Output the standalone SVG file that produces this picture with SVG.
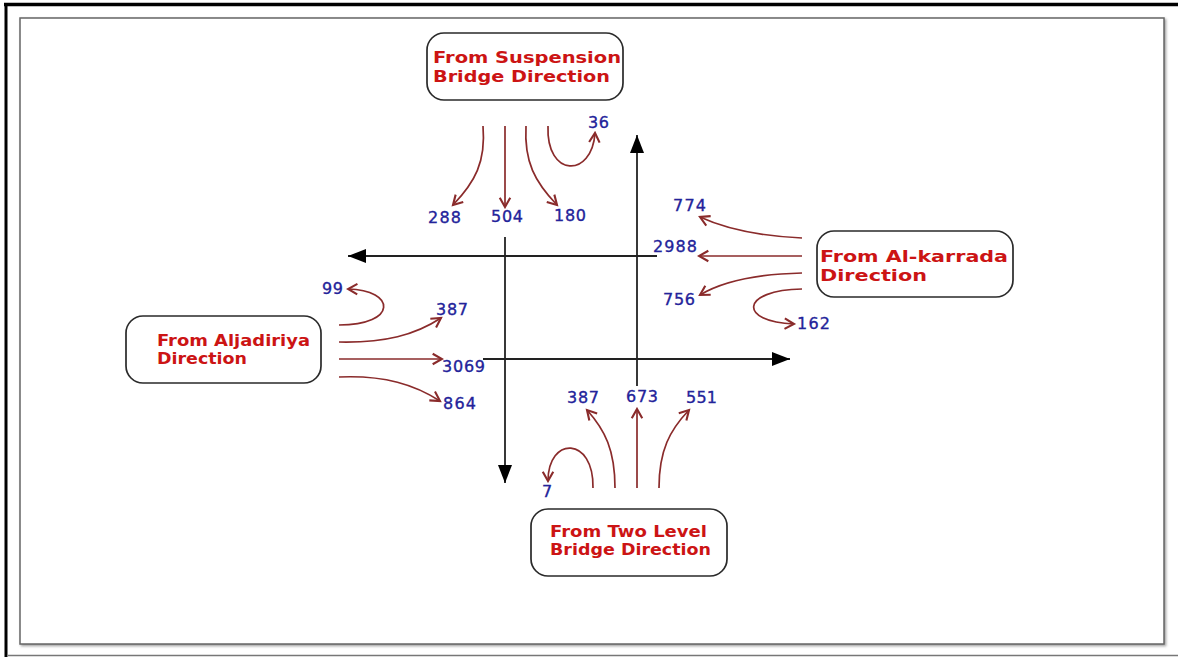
<svg xmlns="http://www.w3.org/2000/svg" width="1178" height="657" viewBox="0 0 1178 657">
<defs>
<style>
.box{fill:#fff;stroke:#2a2a2a;stroke-width:1.7}
.lbl{font-family:"DejaVu Sans","Liberation Sans",sans-serif;font-weight:bold;font-size:16px;fill:#cc1414}
.num{font-family:"DejaVu Sans","Liberation Sans",sans-serif;font-size:16px;fill:#23239a;stroke:#23239a;stroke-width:0.35}
.flow{fill:none;stroke:#8a2b2b;stroke-width:1.7;marker-end:url(#ra)}
.axis{fill:none;stroke:#222;stroke-width:1.8;marker-end:url(#ba)}
</style>
<marker id="ra" markerUnits="userSpaceOnUse" markerWidth="14" markerHeight="14" refX="10" refY="6" orient="auto" viewBox="0 0 12 12">
<path d="M2,1.5 L10,6 L2,10.5" fill="none" stroke="#8a2b2b" stroke-width="1.8"/>
</marker>
<marker id="ba" markerUnits="userSpaceOnUse" markerWidth="20" markerHeight="14" refX="18" refY="7" orient="auto" viewBox="0 0 20 14">
<path d="M0,0 L18,7 L0,14 Z" fill="#000"/>
</marker>
<filter id="sh" x="-1%" y="-1%" width="102%" height="103%">
<feDropShadow dx="1.5" dy="1.5" stdDeviation="0.8" flood-color="#666" flood-opacity="0.6"/>
</filter>
</defs>
<rect width="1178" height="657" fill="#fff"/>
<g id="frame">
<line x1="4" y1="4.5" x2="1178" y2="4.5" stroke="#000" stroke-width="3.5"/>
<line x1="6" y1="3" x2="6" y2="657" stroke="#000" stroke-width="3"/>
<line x1="8" y1="655.5" x2="1178" y2="655.5" stroke="#777" stroke-width="1.5"/>
<rect x="20" y="18" width="1144" height="626" fill="#fff" stroke="#666" stroke-width="1.5" filter="url(#sh)"/>
</g>
<g id="connectors">
<line class="axis" x1="657" y1="256" x2="348" y2="256"/>
<line class="axis" x1="505" y1="237" x2="505" y2="483"/>
<line class="axis" x1="637" y1="386" x2="637" y2="135"/>
<line class="axis" x1="483" y1="359" x2="790" y2="359"/>
<path class="flow" d="M483,126 C486,162 475,182 453,205"/>
<path class="flow" d="M505,126 L505,207"/>
<path class="flow" d="M526,126 C524,162 535,182 557,205"/>
<path class="flow" d="M548,126 C546,178 592,178 595,133"/>
<path class="flow" d="M802,238 C760,236 728,230 700,217"/>
<path class="flow" d="M802,256 L699,256"/>
<path class="flow" d="M802,273 C760,274 725,280 700,295"/>
<path class="flow" d="M802,289 C740,290 738,322 794,324"/>
<path class="flow" d="M339,325 C398,325 396,290 348,289"/>
<path class="flow" d="M339,342 C385,343 415,335 441,318"/>
<path class="flow" d="M339,359 L442,359"/>
<path class="flow" d="M339,377 C385,375 415,385 440,401"/>
<path class="flow" d="M593,488 C594,436 548,436 548,481"/>
<path class="flow" d="M615,488 C615,450 605,430 587,410"/>
<path class="flow" d="M637,488 L637,409"/>
<path class="flow" d="M659,488 C659,450 670,430 689,410"/>
</g>
<g id="node-suspension">
<rect class="box" x="427" y="33" width="196" height="67" rx="17"/>
<text class="lbl" x="433" y="63" textLength="188" lengthAdjust="spacingAndGlyphs">From Suspension</text>
<text class="lbl" x="433" y="82" textLength="177" lengthAdjust="spacingAndGlyphs">Bridge Direction</text>
</g>
<g id="node-alkarrada">
<rect class="box" x="817" y="231" width="196" height="66" rx="17"/>
<text class="lbl" x="820" y="262" textLength="188" lengthAdjust="spacingAndGlyphs">From Al-karrada</text>
<text class="lbl" x="820" y="281" textLength="107" lengthAdjust="spacingAndGlyphs">Direction</text>
</g>
<g id="node-aljadiriya">
<rect class="box" x="126" y="316" width="195" height="67" rx="17"/>
<text class="lbl" x="157" y="346" textLength="153" lengthAdjust="spacingAndGlyphs">From Aljadiriya</text>
<text class="lbl" x="157" y="364" textLength="90" lengthAdjust="spacingAndGlyphs">Direction</text>
</g>
<g id="node-twolevel">
<rect class="box" x="531" y="509" width="196" height="67" rx="17"/>
<text class="lbl" x="550" y="537" textLength="157" lengthAdjust="spacingAndGlyphs">From Two Level</text>
<text class="lbl" x="550" y="555" textLength="161" lengthAdjust="spacingAndGlyphs">Bridge Direction</text>
</g>
<g id="numbers">
<text class="num" x="428" y="223" textLength="33">288</text>
<text class="num" x="491" y="222" textLength="32">504</text>
<text class="num" x="554" y="221" textLength="32">180</text>
<text class="num" x="588" y="128" textLength="21">36</text>
<text class="num" x="673" y="211" textLength="33">774</text>
<text class="num" x="653" y="252" textLength="44">2988</text>
<text class="num" x="663" y="305" textLength="32">756</text>
<text class="num" x="797" y="329" textLength="33">162</text>
<text class="num" x="322" y="294" textLength="21">99</text>
<text class="num" x="436" y="315" textLength="32">387</text>
<text class="num" x="442" y="372" textLength="43">3069</text>
<text class="num" x="443" y="409" textLength="33">864</text>
<text class="num" x="567" y="403" textLength="32">387</text>
<text class="num" x="626" y="402" textLength="32">673</text>
<text class="num" x="686" y="403" textLength="31">551</text>
<text class="num" x="542" y="497">7</text>
</g>
</svg>
